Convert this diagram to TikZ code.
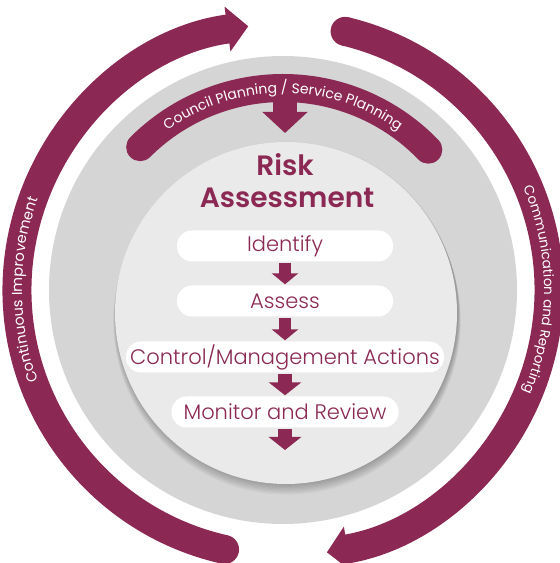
\documentclass[tikz,border=0pt]{standalone}
\usepackage{fontspec}
\newfontfamily\pop{Poppins}
\newfontfamily\popsb{Poppins SemiBold}
\newfontfamily\popl{Poppins Light}
\usetikzlibrary{arrows.meta,decorations.text}
\definecolor{maroon}{HTML}{8B2853}
\definecolor{ringgray}{HTML}{D5D5D5}
\definecolor{diskgray}{HTML}{EAEAEA}
\begin{document}
\begin{tikzpicture}[x=1pt,y=1pt,
  pill/.style={fill=white, rounded corners=15pt, minimum height=31pt, text=maroon,
    font=\popl\fontsize{21}{21}\selectfont, inner sep=0pt},
  flow/.style={draw=maroon, line width=12pt, shorten <=1pt, shorten >=1pt,
    -{Triangle[width=26pt,length=11pt]}},
  flowbig/.style={flow, line width=14pt, -{Triangle[width=32pt,length=13pt]}},
  ring/.style={draw=maroon, line width=29pt, line cap=butt},
  title/.style={text=maroon, font=\popsb\fontsize{28}{28}\selectfont, inner sep=0pt}
]
\useasboundingbox (0,0) rectangle (560,563);
\coordinate (O) at (283,273);
% outer grey disk
\fill[ringgray] (O) circle[radius=234];
% shadow of inner disk
\foreach \i in {1,...,9} \fill[black,opacity=0.03] (287,251-\i) circle[radius=171+0.3*\i];
\fill[diskgray] (286,250) circle[radius=171];

% outer arrows
\coordinate (lstart) at ([shift={(257.3:266)}]O);
\coordinate (rstart) at ([shift={(76.5:266)}]O);
\fill[maroon] (lstart) circle[radius=14.5];
\fill[maroon] (rstart) circle[radius=14.5];
\draw[ring, -{Triangle[width=44pt,length=21pt]}] (lstart) arc[start angle=257.3, end angle=97.5, radius=266];
\draw[ring, -{Triangle[width=44pt,length=21pt]}] (rstart) arc[start angle=76.5, end angle=-80.5, radius=266];

% planning band
\draw[maroon, line width=28pt, line cap=round] ([shift={(135:202)}]O) arc[start angle=135, end angle=44, radius=202];
\coordinate (bandmid) at (285,470);
\coordinate (bandtip) at (285,430);
\draw[maroon, line width=24pt, -{Triangle[width=44pt,length=21pt]}] (bandmid) -- (bandtip);

% curved texts
\path[decorate, decoration={text along path, text align=center, text color=white,
  text={|\pop\fontsize{14}{14}\selectfont|Council Planning / Service Planning}}]
  ([shift={(150:197)}]O) arc[start angle=150, end angle=30, radius=197];
\path[decorate, decoration={text along path, text align=center, text color=white,
  text={|\pop\fontsize{14.5}{14.5}\selectfont|Continuous Improvement}}]
  ([shift={(235:261)}]O) arc[start angle=235, end angle=125, radius=261];
\path[decorate, decoration={text along path, text align=center, text color=white,
  text={|\pop\fontsize{13.5}{13.5}\selectfont|Communication and Reporting}}]
  ([shift={(55:261)}]O) arc[start angle=55, end angle=-55, radius=261];

% title
\node[title] (risk) at (285,398) {Risk};
\node[title] (assessment) at (287,365) {Assessment};

% steps
\node[pill, minimum width=216pt] (p1) at (285,317) {Identify};
\node[pill, minimum width=216pt] (p2) at (285,262) {Assess};
\node[pill, minimum width=318pt] (p3) at (285,206) {Control/Management Actions};
\node[pill, minimum width=227pt] (p4) at (285,151) {Monitor and Review};
\coordinate (pend) at (285,112);
\draw[flow] (p1.south) -- (p2.north);
\draw[flow] (p2.south) -- (p3.north);
\draw[flowbig] (p3.south) -- (p4.north);
\draw[flowbig] (p4.south) -- (pend);
\end{tikzpicture}
\end{document}
